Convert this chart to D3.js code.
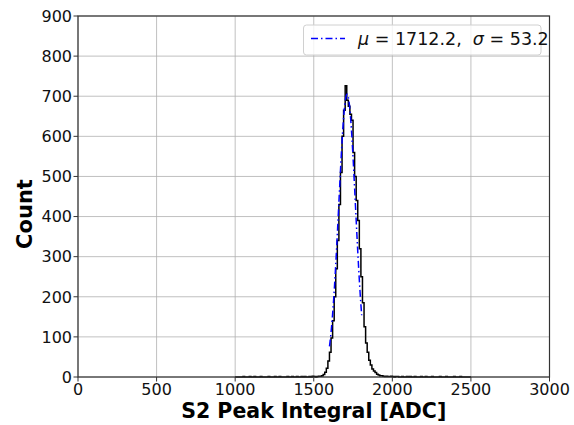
<!DOCTYPE html>
<html>
<head>
<meta charset="utf-8">
<script src="https://cdn.jsdelivr.net/npm/d3@7"></script>
<style>
  body { margin: 0; background: #fff; }
  svg { display: block; font-family: "DejaVu Sans", sans-serif; }
</style>
</head>
<body>
<div id="chart"></div>
<script>
// histogram: 10 ADC bins starting at 1000
var binStart = 1000;
var binWidth = 10;
var counts = [
  0, 0, 0, 0, 0, 1, 0, 0, 0, 1,          // 1000
  0, 0, 1, 0, 0, 0, 1, 0, 0, 0,          // 1100
  0, 1, 0, 0, 0, 1, 0, 0, 1, 0,          // 1200
  0, 0, 0, 1, 0, 0, 1, 0, 0, 1,          // 1300
  0, 0, 1, 0, 1, 0, 0, 1, 0, 2,          // 1400
  1, 0, 1, 2, 2, 3, 6, 12, 22, 40,       // 1500
  62, 97, 140, 200, 270, 340, 430, 510, 600, 665, // 1600
  726, 690, 675, 655, 640, 560, 500, 440, 390, 320, // 1700
  250, 185, 125, 85, 62, 42, 30, 20, 15, 11,        // 1800
  7, 5, 3, 3, 2, 1, 2, 1, 1, 2,          // 1900
  1, 0, 1, 1, 0, 0, 1, 0, 0, 1,          // 2000
  0, 1, 0, 0, 1, 0, 0, 0, 1, 0,          // 2100
  0, 1, 0, 0, 0, 1, 0, 0, 0, 0,          // 2200
  1, 0, 0, 0, 1, 0, 0, 0, 0, 1,          // 2300
  0, 0, 0, 1, 0, 0, 0, 0, 0, 0           // 2400
];

// gaussian fit
var fitMu = 1712.2;
var fitSigma = 53.2;
var fitAmp = 705;
var fitRange = [1600, 1805];

var xTicks = [0, 500, 1000, 1500, 2000, 2500, 3000];
var yTicks = [0, 100, 200, 300, 400, 500, 600, 700, 800, 900];

var width = 574, height = 425;
var margin = { top: 16, right: 24.5, bottom: 48, left: 78 };

var svg = d3.select("#chart").append("svg")
    .attr("width", width)
    .attr("height", height);

var x = d3.scaleLinear().domain([0, 3000]).range([margin.left, width - margin.right]);
var y = d3.scaleLinear().domain([0, 900]).range([height - margin.bottom, margin.top]);

// grid
svg.append("g").selectAll("line").data(xTicks).enter().append("line")
    .attr("x1", function(d) { return x(d); }).attr("x2", function(d) { return x(d); })
    .attr("y1", y(0)).attr("y2", y(900))
    .attr("stroke", "#b0b0b0").attr("stroke-width", 0.8);
svg.append("g").selectAll("line").data(yTicks).enter().append("line")
    .attr("x1", x(0)).attr("x2", x(3000))
    .attr("y1", function(d) { return y(d); }).attr("y2", function(d) { return y(d); })
    .attr("stroke", "#b0b0b0").attr("stroke-width", 0.8);

// histogram step line
var pts = [[binStart, 0]];
counts.forEach(function(c, i) {
    var x0 = binStart + i * binWidth;
    pts.push([x0, c]);
    pts.push([x0 + binWidth, c]);
});
pts.push([binStart + counts.length * binWidth, 0]);

var line = d3.line()
    .x(function(d) { return x(d[0]); })
    .y(function(d) { return y(d[1]); });

svg.append("path")
    .datum(pts)
    .attr("d", line)
    .attr("fill", "none")
    .attr("stroke", "#000")
    .attr("stroke-width", 1.5)
    .attr("stroke-linejoin", "miter");

// fit curve
var fitPts = d3.range(fitRange[0], fitRange[1] + 1, 1).map(function(v) {
    return [v, fitAmp * Math.exp(-0.5 * Math.pow((v - fitMu) / fitSigma, 2))];
});
svg.append("path")
    .datum(fitPts)
    .attr("d", line)
    .attr("fill", "none")
    .attr("stroke", "#0000ff")
    .attr("stroke-width", 1.5)
    .attr("stroke-dasharray", "7,3,1.5,3");

// spines
svg.append("rect")
    .attr("x", x(0)).attr("y", y(900))
    .attr("width", x(3000) - x(0)).attr("height", y(0) - y(900))
    .attr("fill", "none").attr("stroke", "#333").attr("stroke-width", 1.2);

// x ticks
var gx = svg.append("g");
gx.selectAll("line").data(xTicks).enter().append("line")
    .attr("x1", function(d) { return x(d); }).attr("x2", function(d) { return x(d); })
    .attr("y1", y(0)).attr("y2", y(0) + 4.5)
    .attr("stroke", "#333").attr("stroke-width", 1);
gx.selectAll("text").data(xTicks).enter().append("text")
    .attr("x", function(d) { return x(d); })
    .attr("y", 395)
    .attr("text-anchor", "middle")
    .attr("font-size", 16)
    .attr("fill", "#111")
    .text(function(d) { return d; });

// y ticks
var gy = svg.append("g");
gy.selectAll("line").data(yTicks).enter().append("line")
    .attr("x1", x(0) - 4.5).attr("x2", x(0))
    .attr("y1", function(d) { return y(d); }).attr("y2", function(d) { return y(d); })
    .attr("stroke", "#333").attr("stroke-width", 1);
gy.selectAll("text").data(yTicks).enter().append("text")
    .attr("x", 72)
    .attr("y", function(d) { return y(d); })
    .attr("dy", "0.36em")
    .attr("text-anchor", "end")
    .attr("font-size", 16)
    .attr("fill", "#111")
    .text(function(d) { return d; });

// axis labels
svg.append("text")
    .attr("x", (x(0) + x(3000)) / 2)
    .attr("y", 418)
    .attr("text-anchor", "middle")
    .attr("font-size", 20.5)
    .attr("font-weight", "bold")
    .text("S2 Peak Integral [ADC]");

svg.append("text")
    .attr("transform", "translate(32," + 214 + ") rotate(-90)")
    .attr("text-anchor", "middle")
    .attr("font-size", 21)
    .attr("font-weight", "bold")
    .text("Count");

// legend
var lg = svg.append("g");
lg.append("rect")
    .attr("x", 303.5).attr("y", 25)
    .attr("width", 237.5).attr("height", 30)
    .attr("rx", 3)
    .attr("fill", "#fff").attr("fill-opacity", 0.8)
    .attr("stroke", "#d0d0d0").attr("stroke-width", 1);
lg.append("line")
    .attr("x1", 311).attr("x2", 345)
    .attr("y1", 38.5).attr("y2", 38.5)
    .attr("stroke", "#0000ff")
    .attr("stroke-width", 1.5)
    .attr("stroke-dasharray", "7,3,1.5,3");
var lt = lg.append("text")
    .attr("x", 358)
    .attr("y", 45)
    .attr("font-size", 17.5)
    .attr("fill", "#111");
lt.append("tspan").attr("font-style", "italic").text("\u03bc");
lt.append("tspan").text(" = 1712.2,\u00a0 ");
lt.append("tspan").attr("font-style", "italic").text("\u03c3");
lt.append("tspan").text(" = " + fitSigma.toFixed(1));
</script>
</body>
</html>
